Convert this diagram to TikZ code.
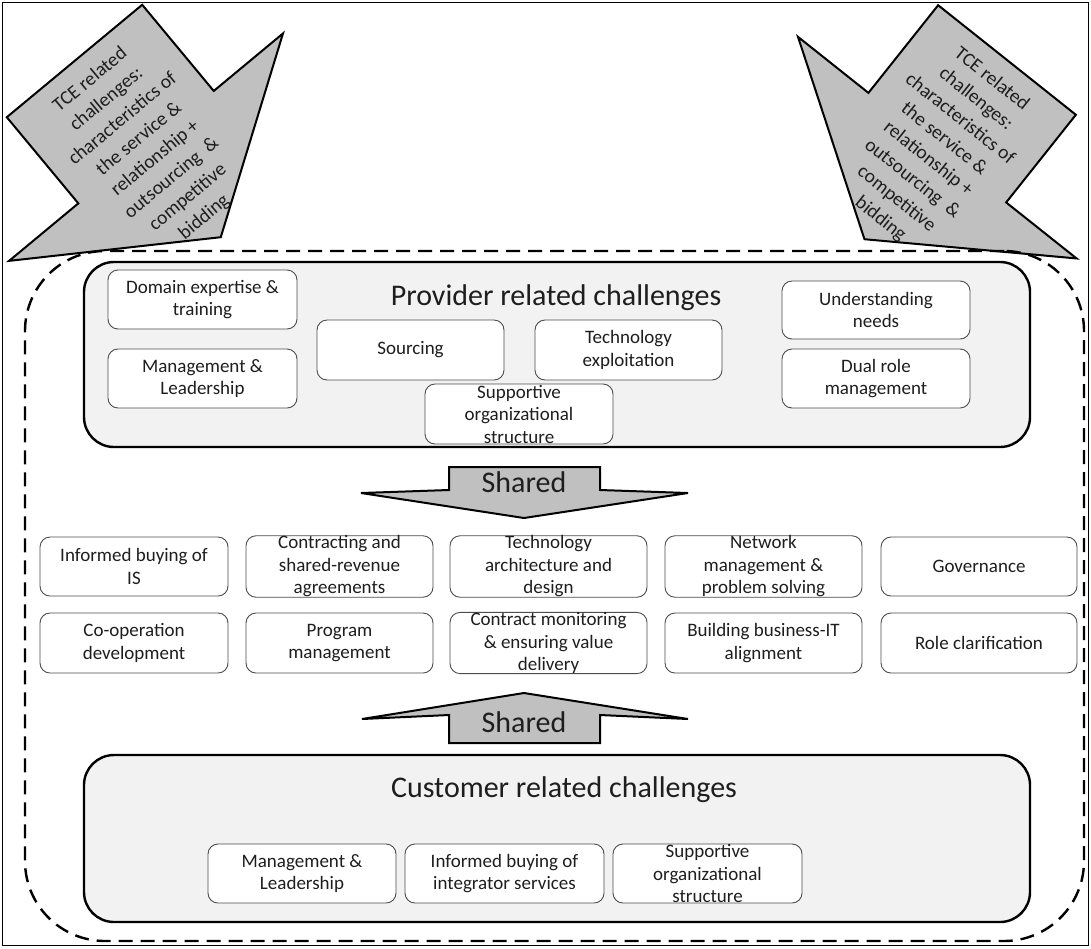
\documentclass[tikz,border=0pt]{standalone}
\usepackage{fontspec}
\setmainfont{Carlito}
\definecolor{groupfill}{RGB}{242,242,242}
\definecolor{arrowfill}{RGB}{192,192,192}
\definecolor{inktext}{RGB}{30,30,30}
\begin{document}
\begin{tikzpicture}[x=1pt,y=-1pt,
  outerframe/.style={draw=black,line width=1.3pt,inner sep=0pt},
  zone/.style={draw=black,line width=2.4pt,dash pattern=on 14pt off 8pt,
    rounded corners=80pt,inner sep=0pt},
  group/.style={draw=black,line width=2.4pt,fill=groupfill,
    rounded corners=30pt,inner sep=0pt},
  item/.style 2 args={draw=black!70,line width=0.9pt,fill=white,
    rounded corners=10pt,align=center,inner sep=0pt,text=inktext,
    minimum width=#1pt,minimum height=#2pt,
    font=\fontsize{19}{22.5}\selectfont},
  blockarrow/.style={draw=black,line width=2pt,fill=arrowfill,line join=miter},
  title/.style={font=\fontsize{30}{36}\selectfont,text=inktext,inner sep=0pt},
  tce/.style={align=center,inner sep=0pt,text=inktext,
    font=\fontsize{19.5}{25.5}\selectfont}
]
\useasboundingbox (0,0) rectangle (1091,948);

% outer border
\node[outerframe,minimum width=1086pt,minimum height=943pt] (border) at (545.75,474) {};

% TCE arrows pointing into the collaboration zone
\begin{scope}[shift={(74.5,61)},rotate=39.7]
  \draw[blockarrow] (-88,0) -- (88,0) -- (88,112) -- (178,112) -- (0,229)
    -- (-178,112) -- (-88,112) -- cycle;
  \node[tce,transform shape] (tceLeft) at (0,114)
    {TCE related\\challenges:\\characteristics of\\the service \&\\relationship +\\outsourcing~~\&\\competitive\\bidding};
\end{scope}
\begin{scope}[shift={(1007,60)},rotate=-38.5]
  \draw[blockarrow] (-88,0) -- (88,0) -- (88,112) -- (178,112) -- (0,229)
    -- (-178,112) -- (-88,112) -- cycle;
  \node[tce,transform shape] (tceRight) at (0,114)
    {TCE related\\challenges:\\characteristics of\\the service \&\\relationship +\\outsourcing~~\&\\competitive\\bidding};
\end{scope}

% dashed collaboration zone
\node[zone,minimum width=1059pt,minimum height=690pt] (zone) at (554.5,596) {};

% provider group
\node[group,minimum width=946pt,minimum height=185pt] (provider) at (557,354.5) {};
\node[title,anchor=base] (providerTitle) at (556,305) {Provider related challenges};
\node[item={189}{59}] (pDomain) at (202.5,299.5) {Domain expertise \&\\training};
\node[item={189}{59}] (pMgmt) at (202.5,378.5) {Management \&\\Leadership};
\node[item={187}{60}] (pSourcing) at (410.5,350) {Sourcing};
\node[item={187}{60}] (pTech) at (628.5,350) {Technology\\exploitation};
\node[item={188}{60}] (pSupport) at (519,414) {Supportive\\organizational\\structure};
\node[item={188}{58}] (pNeeds) at (876,310) {Understanding\\needs};
\node[item={188}{59}] (pDual) at (876,378.5) {Dual role\\management};

% shared arrow from provider side
\draw[blockarrow] (449,467) -- (600,467) -- (600,490) -- (688,493) -- (524,518)
  -- (361,493) -- (449,490) -- cycle;
\node[title] (sharedDown) at (524,482) {Shared};

% shared challenges
\node[item={188}{59}] (sBuyIS) at (134,566.5) {Informed buying of\\IS};
\node[item={187}{59}] (sContract) at (339.5,566.5) {Contracting and\\shared-revenue\\agreements};
\node[item={197}{59}] (sArch) at (548.5,566.5) {Technology\\architecture and\\design};
\node[item={197}{59}] (sNetwork) at (763.5,566.5) {Network\\management \&\\problem solving};
\node[item={196}{59}] (sGov) at (979,566.5) {Governance};
\node[item={188}{60}] (sCoop) at (134,643) {Co-operation\\development};
\node[item={187}{60}] (sProgram) at (339.5,643) {Program\\management};
\node[item={197}{60}] (sMonitor) at (548.5,643) {Contract monitoring\\\& ensuring value\\delivery};
\node[item={197}{60}] (sAlign) at (763.5,643) {Building business-IT\\alignment};
\node[item={196}{60}] (sRole) at (979,643) {Role clarification};

% shared arrow from customer side
\draw[blockarrow] (524,693) -- (688,719) -- (600,715) -- (600,743) -- (449,743)
  -- (449,715) -- (362,719) -- cycle;
\node[title] (sharedUp) at (524,722) {Shared};

% customer group
\node[group,minimum width=946pt,minimum height=167pt] (customer) at (557,838.5) {};
\node[title,anchor=base] (customerTitle) at (564,797) {Customer related challenges};
\node[item={188}{59}] (cMgmt) at (302,873.5) {Management \&\\Leadership};
\node[item={199}{59}] (cBuying) at (504.5,873.5) {Informed buying of\\integrator services};
\node[item={189}{59}] (cSupport) at (707.5,873.5) {Supportive\\organizational\\structure};
\end{tikzpicture}
\end{document}
